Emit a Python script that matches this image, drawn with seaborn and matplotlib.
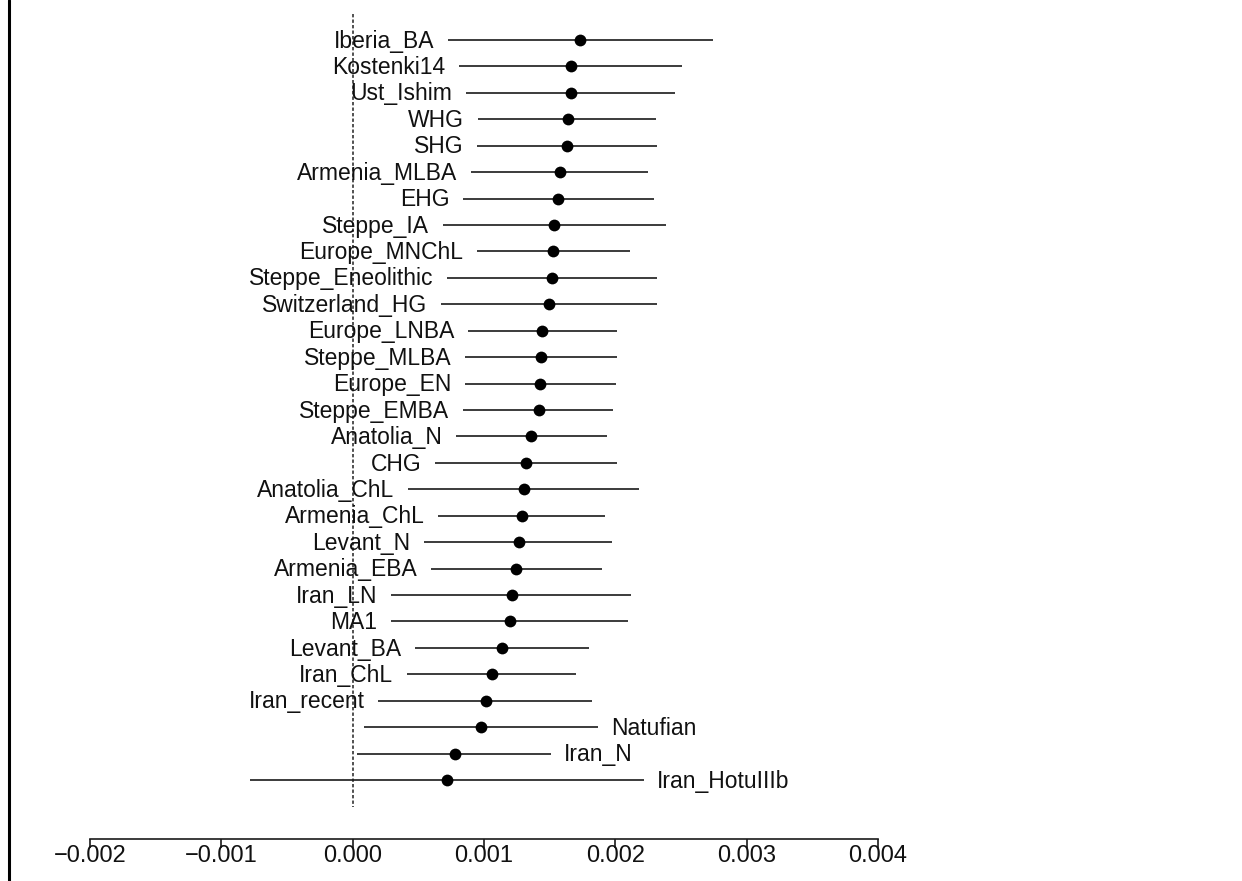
import numpy as np
import pandas as pd
import matplotlib
matplotlib.use("Agg")
import matplotlib.pyplot as plt
import seaborn as sns
from matplotlib.lines import Line2D

# values
populations = ["Iberia_BA", "Kostenki14", "Ust_Ishim", "WHG", "SHG", "Armenia_MLBA",
               "EHG", "Steppe_IA", "Europe_MNChL", "Steppe_Eneolithic", "Switzerland_HG",
               "Europe_LNBA", "Steppe_MLBA", "Europe_EN", "Steppe_EMBA", "Anatolia_N",
               "CHG", "Anatolia_ChL", "Armenia_ChL", "Levant_N", "Armenia_EBA", "Iran_LN",
               "MA1", "Levant_BA", "Iran_ChL", "Iran_recent", "Natufian", "Iran_N",
               "Iran_HotuIIIb"]
estimate = [0.001728, 0.001659, 0.001659, 0.001636, 0.001629, 0.001575,
            0.001560, 0.001530, 0.001522, 0.001514, 0.001492,
            0.001438, 0.001431, 0.001423, 0.001416, 0.001355,
            0.001317, 0.001301, 0.001286, 0.001263, 0.001240, 0.001210,
            0.001195, 0.001134, 0.001058, 0.001012, 0.000974, 0.000776,
            0.000715]
lower = [0.000723, 0.000807, 0.000860, 0.000951, 0.000944, 0.000898,
         0.000837, 0.000685, 0.000944, 0.000715, 0.000670,
         0.000875, 0.000852, 0.000852, 0.000837, 0.000784,
         0.000624, 0.000419, 0.000647, 0.000540, 0.000594, 0.000289,
         0.000289, 0.000472, 0.000411, 0.000190, 0.000084, 0.000030,
         -0.000784]
upper = [0.002740, 0.002511, 0.002458, 0.002306, 0.002314, 0.002245,
         0.002291, 0.002382, 0.002108, 0.002314, 0.002314,
         0.002009, 0.002009, 0.002002, 0.001986, 0.001933,
         0.002009, 0.002177, 0.001918, 0.001971, 0.001895, 0.002123,
         0.002093, 0.001796, 0.001697, 0.001826, 0.001865, 0.001507,
         0.002215]
label_right = ["Natufian", "Iran_N", "Iran_HotuIIIb"]
tick_values = [-0.002, -0.001, 0.000, 0.001, 0.002, 0.003, 0.004]
tick_labels = ["\u22120.002", "\u22120.001", "0.000", "0.001", "0.002", "0.003", "0.004"]

df = pd.DataFrame({"pop": populations, "est": estimate, "lo": lower, "hi": upper})
df["row"] = np.arange(len(df))

sns.set_style("white")
plt.rcParams["font.family"] = ["Liberation Sans", "DejaVu Sans"]

fig = plt.figure(figsize=(12.42, 8.81), dpi=100)
ax = fig.add_axes([90 / 1242, 1 - 839 / 881, 788 / 1242, 825 / 881])

# confidence intervals
ax.hlines(df["row"], df["lo"], df["hi"], color="#1a1a1a", linewidth=1.2, zorder=2)
sns.scatterplot(data=df, x="est", y="row", ax=ax, color="black", s=72,
                edgecolor="black", linewidth=0, zorder=3, legend=False)

# labels next to the intervals
for _, r in df.iterrows():
    if r["pop"] in label_right:
        ax.annotate(r["pop"], xy=(r["hi"], r["row"]), xytext=(9.5, -0.8),
                    textcoords="offset points", ha="left", va="center",
                    fontsize=16.5, color="#111111", annotation_clip=False)
    else:
        ax.annotate(r["pop"], xy=(r["lo"], r["row"]), xytext=(-9.5, -0.8),
                    textcoords="offset points", ha="right", va="center",
                    fontsize=16.5, color="#111111", annotation_clip=False)

# reference line at zero
n = len(df)
ax.vlines(0, -0.98, n + 0.02, color="#222222", linewidth=1.1,
          linestyles=(0, (2.2, 1.4)), zorder=1)

ax.set_xlim(tick_values[0], tick_values[-1])
ax.set_ylim(n + 1.23, -0.984)
ax.set_xticks(tick_values)
ax.set_xticklabels(tick_labels, fontsize=17, color="#111111")
ax.set_yticks([])
ax.set_xlabel("")
ax.set_ylabel("")
for side in ["top", "right", "left"]:
    ax.spines[side].set_visible(False)
ax.spines["bottom"].set_bounds(tick_values[0], tick_values[-1])
ax.spines["bottom"].set_linewidth(1.2)
ax.spines["bottom"].set_color("#1a1a1a")
ax.tick_params(axis="x", direction="out", length=6.5, width=1.2, pad=-2,
               color="#1a1a1a", bottom=True)
ax.patch.set_alpha(0)

# left frame line
fig.add_artist(Line2D([9 / 1242, 9 / 1242], [0, 1], transform=fig.transFigure,
                      color="black", linewidth=2.2))

fig.savefig("out.png", dpi=100, facecolor="white")
